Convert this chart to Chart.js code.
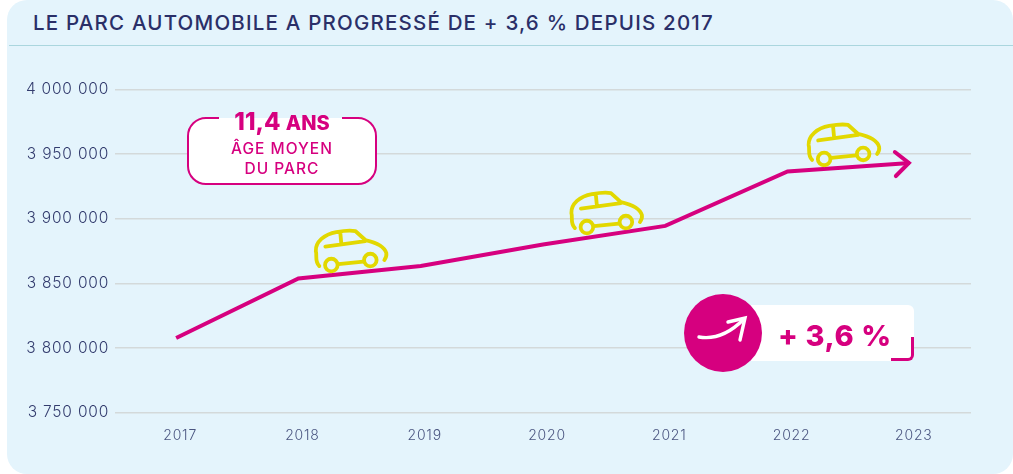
<!DOCTYPE html>
<html lang="fr">
<head>
<meta charset="utf-8">
<title>Parc automobile</title>
<script src="https://cdn.jsdelivr.net/npm/chart.js@4"></script>
<style>
  html, body { margin: 0; padding: 0; background: #fff; }
  body { width: 1013px; height: 474px; overflow: hidden; position: relative; font-family: Inter, sans-serif; }
  .panel { position: absolute; left: 7px; top: 0; width: 1006px; height: 474px; background: #e4f4fc; border-radius: 20px; }
  .rule { position: absolute; left: 9px; right: 0; top: 45px; height: 1px; background: #aad6de; }
  h1 { position: absolute; left: 33px; top: 11px; margin: 0; font-size: 20.5px; letter-spacing: 1.2px; line-height: 24px; font-weight: 500; color: #2a2f68; white-space: nowrap; }
  canvas { position: absolute; left: 0; top: 0; }
  .age { position: absolute; left: 187px; top: 117px; width: 190px; height: 68px; box-sizing: border-box; background: #fff; border: 2.5px solid #d6007f; border-radius: 19px; color: #d6007f; text-align: center; }
  .age .gap { position: absolute; left: 30px; top: -2.5px; width: 123px; height: 2.5px; background: linear-gradient(#e4f4fc 40%, #fff 40%); }
  .age .big { position: absolute; left: 0; right: 0; top: -11px; font-weight: 800; font-size: 24px; line-height: 28px; white-space: nowrap; }
  .age .big span { font-size: 20px; }
  .age .small { position: absolute; left: 0; right: 0; top: 20px; font-size: 15.5px; letter-spacing: 1px; line-height: 20px; font-weight: 500; }
  .gain { position: absolute; left: 745px; top: 305px; width: 169px; height: 56px; background: #fff; border-radius: 6px; }
  .gain .txt { position: absolute; left: 33px; top: 14px; font-size: 29px; letter-spacing: 0.6px; line-height: 34px; font-weight: 800; color: #d6007f; white-space: nowrap; }
  .gain .corner { position: absolute; right: 0; bottom: 0; width: 23px; height: 24px; box-sizing: border-box; border-right: 3px solid #d6007f; border-bottom: 3px solid #d6007f; border-bottom-right-radius: 6px; }
  .disc { position: absolute; left: 684px; top: 294px; width: 78px; height: 78px; border-radius: 50%; background: #d6007f; }
  .disc svg { position: absolute; left: 0; top: 0; }
</style>
</head>
<body>
<div class="panel"></div>
<div class="rule"></div>
<h1>LE PARC AUTOMOBILE A PROGRESSÉ DE + 3,6 % DEPUIS 2017</h1>
<canvas id="chart" width="1013" height="474"></canvas>
<div class="age">
  <div class="gap"></div>
  <div class="big">11,4 <span>ANS</span></div>
  <div class="small">ÂGE MOYEN<br>DU PARC</div>
</div>
<div class="gain">
  <div class="txt">+ 3,6 %</div>
  <div class="corner"></div>
</div>
<div class="disc">
  <svg width="78" height="78" viewBox="0 0 78 78" fill="none" stroke="#fff" stroke-width="3.4" stroke-linecap="round">
    <path d="M15 43 C32 46 47 38 60 25"/>
    <path d="M44 28 L61 24 L56 46"/>
  </svg>
</div>
<script>
const YEARS = ['2017', '2018', '2019', '2020', '2021', '2022', '2023'];
const PARC = [3807700, 3853700, 3863400, 3880000, 3894400, 3936500, 3943100];
const Y_TICKS = [3750000, 3800000, 3850000, 3900000, 3950000, 4000000];
// where the little cars sit: category index and value of their top left corner
const CARS = [[1.13, 3892000], [3.22, 3921400], [5.16, 3974100]];

const PINK = '#d6007f';
const YELLOW = '#e2d800';

const formatTick = (v) => String(v).replace(/\B(?=(\d{3})+$)/g, ' ');

// the labels of the original are set wider than Inter
const wideLabels = {
  id: 'wideLabels',
  beforeDraw(chart) {
    chart.ctx.letterSpacing = '0.8px';
  },
};

const carIcons = {
  id: 'carIcons',
  afterDatasetsDraw(chart) {
    const { ctx, scales } = chart;
    ctx.save();
    ctx.strokeStyle = YELLOW;
    ctx.lineWidth = 3.8;
    ctx.lineCap = 'round';
    ctx.lineJoin = 'round';
    for (const [idx, val] of CARS) {
      ctx.save();
      ctx.translate(scales.x.getPixelForValue(idx), scales.y.getPixelForValue(val));
      ctx.beginPath();
      ctx.moveTo(5, 37);
      ctx.bezierCurveTo(0, 32, 3, 27, 1.5, 22);
      ctx.bezierCurveTo(1, 13, 10, 5, 22, 3);
      ctx.bezierCurveTo(30, 1.5, 36, 1, 41, 2);
      ctx.lineTo(51, 11);
      ctx.bezierCurveTo(60, 13, 70, 17, 72, 24);
      ctx.bezierCurveTo(72.5, 27, 71.5, 29, 70, 31);
      ctx.moveTo(11, 17.5);
      ctx.lineTo(51, 12);
      ctx.moveTo(26, 4);
      ctx.lineTo(27, 15);
      ctx.moveTo(24, 35);
      ctx.lineTo(49, 32.5);
      ctx.stroke();
      for (const [cx, cy] of [[17, 36], [56, 31]]) {
        ctx.beginPath();
        ctx.arc(cx, cy, 6.3, 0, Math.PI * 2);
        ctx.stroke();
      }
      ctx.restore();
    }
    ctx.restore();
  },
};

const arrowHead = {
  id: 'arrowHead',
  afterDatasetsDraw(chart) {
    const { ctx } = chart;
    const last = chart.getDatasetMeta(0).data[YEARS.length - 1];
    ctx.save();
    ctx.strokeStyle = PINK;
    ctx.lineWidth = 4;
    ctx.lineCap = 'round';
    ctx.lineJoin = 'miter';
    ctx.beginPath();
    ctx.moveTo(last.x - 15, last.y - 11);
    ctx.lineTo(last.x - 1, last.y);
    ctx.lineTo(last.x - 14, last.y + 13);
    ctx.stroke();
    ctx.restore();
  },
};

new Chart(document.getElementById('chart'), {
  type: 'line',
  data: {
    labels: YEARS,
    datasets: [{
      data: PARC,
      borderColor: PINK,
      borderWidth: 4,
      tension: 0,
      pointRadius: 0,
      fill: false,
    }],
  },
  options: {
    responsive: false,
    animation: false,
    layout: { padding: { top: 89.5, right: 42, bottom: 0, left: 0 } },
    plugins: { legend: { display: false }, tooltip: { enabled: false } },
    scales: {
      x: {
        offset: true,
        afterFit: (s) => { s.height = 61.5; },
        grid: { display: false },
        border: { display: false },
        ticks: { color: '#4a5580', font: { family: 'Inter', size: 14, weight: 300 }, padding: 7, labelOffset: 4, maxRotation: 0 },
      },
      y: {
        min: 3750000,
        max: 4000000,
        afterFit: (s) => { s.width = 115; },
        afterBuildTicks: (s) => { s.ticks = Y_TICKS.map((value) => ({ value })); },
        grid: { color: '#d3d9da', lineWidth: 1.5, drawTicks: false },
        border: { display: false },
        ticks: { color: '#333c6e', font: { family: 'Inter', size: 15.5, weight: 300 }, padding: 6, callback: formatTick },
      },
    },
  },
  plugins: [wideLabels, carIcons, arrowHead],
});
</script>
</body>
</html>
